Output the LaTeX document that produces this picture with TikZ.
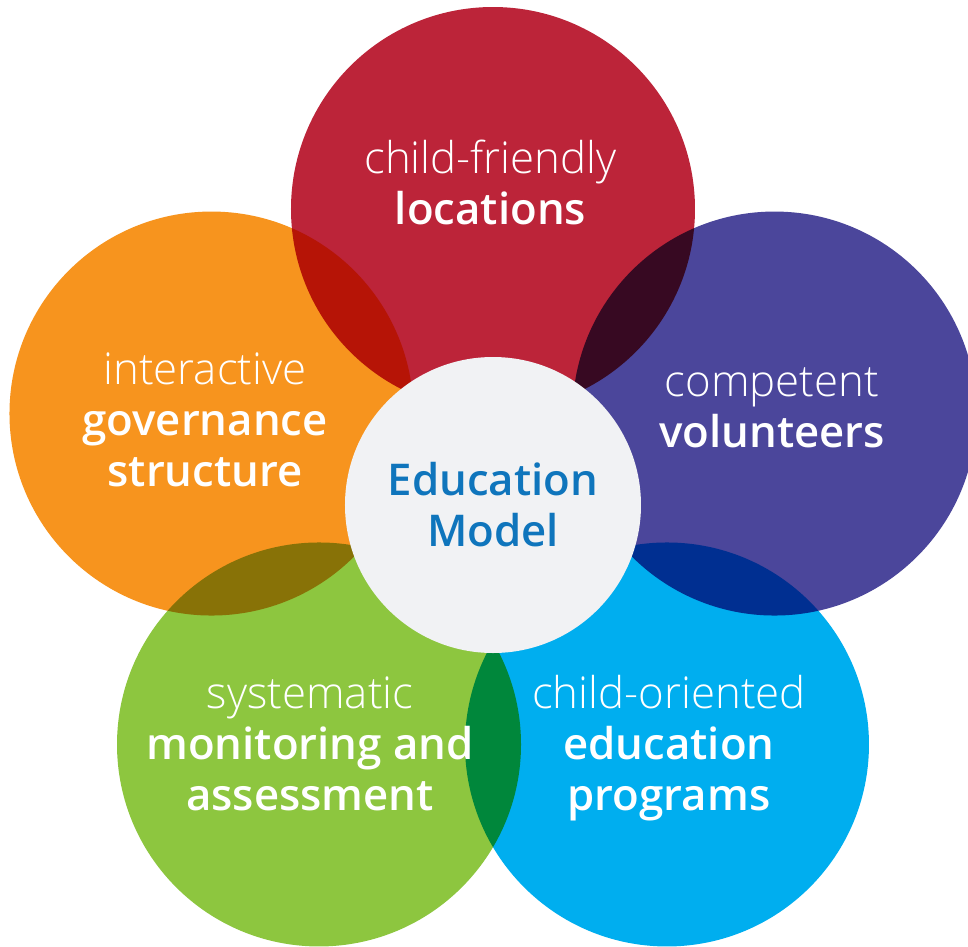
\documentclass[tikz,border=0pt]{standalone}
\usepackage{fontspec}
\newfontfamily\lightfont{Open Sans Light}
\newfontfamily\semifont{Open Sans Semibold}
\usepackage{tikz}
\usetikzlibrary{positioning}
\definecolor{eduRed}{HTML}{BC2439}
\definecolor{eduOrange}{HTML}{F7941E}
\definecolor{eduPurple}{HTML}{4B469B}
\definecolor{eduBlue}{HTML}{00AEEF}
\definecolor{eduGreen}{HTML}{8DC63F}
\definecolor{eduHub}{HTML}{F1F2F4}
\definecolor{eduText}{HTML}{0F75BC}

\begin{document}
\begin{tikzpicture}[font=\fontsize{24.9}{29}\selectfont,
  petal/.style={circle,minimum size=8.08cm,inner sep=0pt,blend mode=multiply},
  hub/.style={circle,minimum size=5.92cm,inner sep=0pt,fill=eduHub,text=eduText,align=center},
  lbl/.style={align=center,text=white}]
\useasboundingbox (-9.86,-8.82) rectangle (9.5,10.1);
\fill[white] (-9.86,-8.82) rectangle (9.5,10.1);
\node[petal,fill=eduRed] (loc) at (90:5.92) {};
\node[petal,fill=eduOrange] (gov) at (162:5.92) {};
\node[petal,fill=eduPurple] (vol) at (18:5.92) {};
\node[petal,fill=eduGreen] (mon) at (234:5.92) {};
\node[petal,fill=eduBlue] (prog) at (306:5.92) {};
\node[hub] (hub) at (0,0) {\semifont Education\\\semifont Model};
\node[lbl] (locText) at (-0.05,6.46) {{\lightfont child-friendly}\\{\semifont locations}};
\node[lbl] (govText) at (-5.76,1.7) {{\lightfont interactive}\\{\semifont governance}\\{\semifont structure}};
\node[lbl] (volText) at (5.58,1.95) {{\lightfont competent}\\{\semifont volunteers}};
\node[lbl] (monText) at (-3.66,-4.78) {{\lightfont systematic}\\{\semifont monitoring and}\\{\semifont assessment}};
\node[lbl] (progText) at (3.52,-4.87) {{\lightfont child-oriented}\\{\semifont education}\\{\semifont programs}};
\end{tikzpicture}
\end{document}
